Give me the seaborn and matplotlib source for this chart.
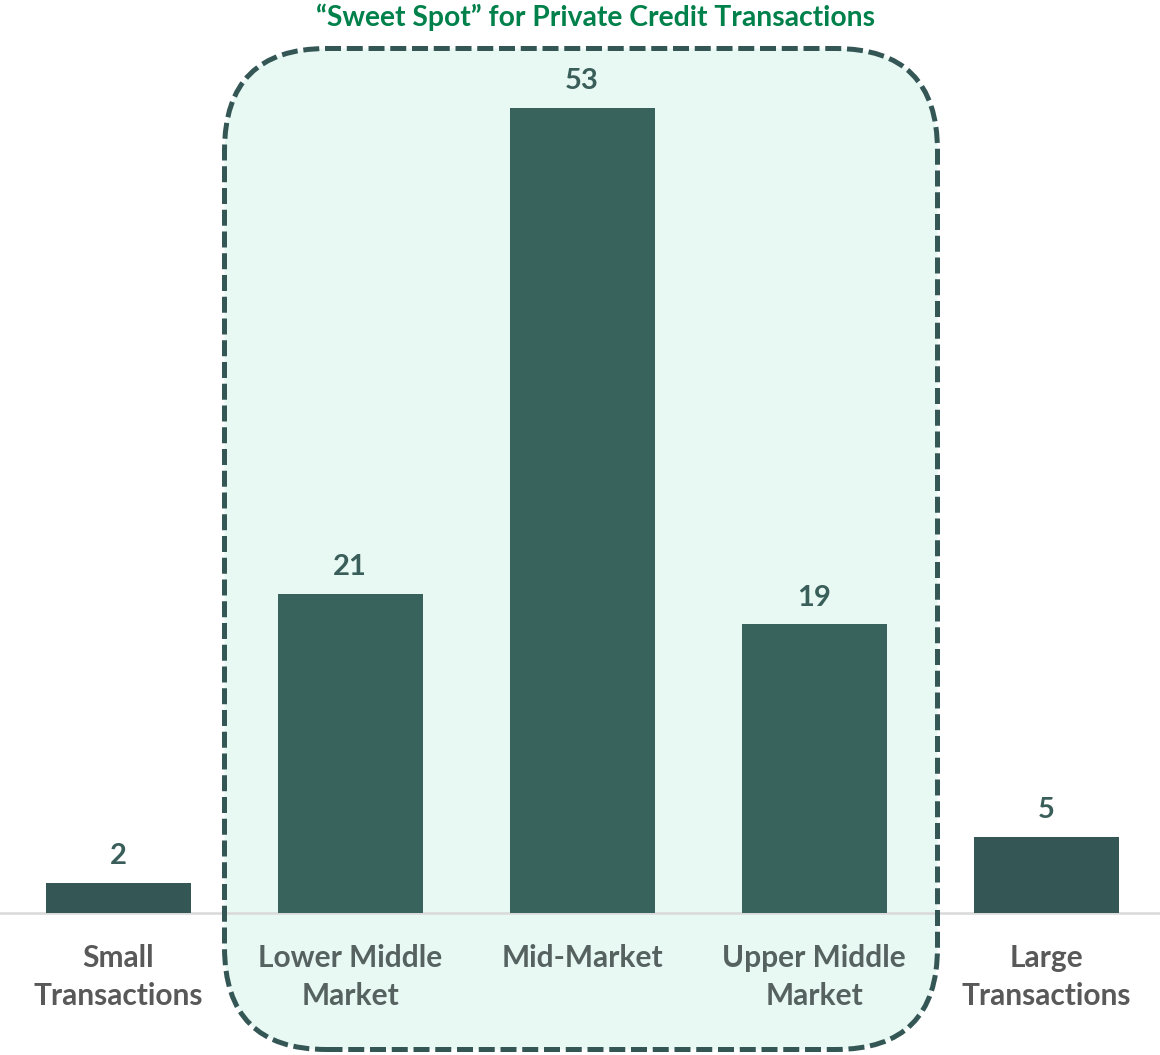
import matplotlib
matplotlib.use("Agg")
import matplotlib.pyplot as plt
import seaborn as sns
import pandas as pd
from matplotlib.patches import FancyBboxPatch

categories = ["Small\nTransactions", "Lower Middle\nMarket", "Mid-Market", "Upper Middle\nMarket", "Large\nTransactions"]
values = [2, 21, 53, 19, 5]
bar_colors = ["#345756", "#37635C", "#37635C", "#37635C", "#345756"]
label_colors = ["#595959", "#56625F", "#56625F", "#56625F", "#595959"]
title_text = "\u201cSweet Spot\u201d for Private Credit Transactions"

sns.set_theme(style="white")
plt.rcParams['font.family'] = ['Lato', 'DejaVu Sans']

W, H = 1160, 1055
fig = plt.figure(figsize=(W / 100, H / 100), dpi=100)
ax = fig.add_axes([0, 142 / H, 1, 911.4 / H])
ax.patch.set_alpha(0)

# rounded dashed "sweet spot" box (figure inches)
bx, by, bw, bh = 2.245, 0.055, 9.375 - 2.245, 10.065 - 0.055
box = FancyBboxPatch((bx, by), bw, bh,
                     boxstyle="round,pad=0,rounding_size=1.02",
                     transform=fig.dpi_scale_trans,
                     facecolor="#E8F8F3", edgecolor="none",
                     zorder=0, clip_on=False)
ax.add_patch(box)
edge = FancyBboxPatch((bx, by), bw, bh,
                      boxstyle="round,pad=0,rounding_size=1.02",
                      transform=fig.dpi_scale_trans,
                      facecolor="none", edgecolor="#345756",
                      linewidth=3.6, linestyle=(0, (3.2, 1.15)),
                      zorder=6, clip_on=False)
ax.add_patch(edge)

df = pd.DataFrame({"cat": categories, "val": values})
sns.barplot(data=df, x="cat", y="val", hue="cat", palette=bar_colors,
            order=categories, hue_order=categories, legend=False,
            width=0.625, saturation=1, linewidth=0, ax=ax, zorder=3)

ax.set_xlim(-0.509, 4.491)
ax.set_ylim(0, 60)
for s in ["top", "right", "left"]:
    ax.spines[s].set_visible(False)
ax.spines["bottom"].set_color("#D9D9D9")
ax.spines["bottom"].set_linewidth(1.8)
ax.spines["bottom"].set_zorder(2)
ax.set_yticks([])
ax.set_xlabel("")
ax.set_ylabel("")
ax.tick_params(axis="x", length=0, pad=22)
ax.set_xticks(range(len(categories)))
ax.set_xticklabels(categories, fontsize=21.5, fontweight="bold", linespacing=1.45)
for lbl, c in zip(ax.get_xticklabels(), label_colors):
    lbl.set_color(c)

for i, v in enumerate(values):
    ax.annotate(str(v), (i, v), xytext=(0, 10), textcoords="offset points",
                ha="center", va="bottom", fontsize=21, fontweight="bold",
                color="#3A5F5A", zorder=5)

fig.text(595 / W, 1 - 17 / H, title_text, ha="center", va="center",
         fontsize=20.3, fontweight="bold", color="#00804A")

fig.savefig("out.png", dpi=100)
